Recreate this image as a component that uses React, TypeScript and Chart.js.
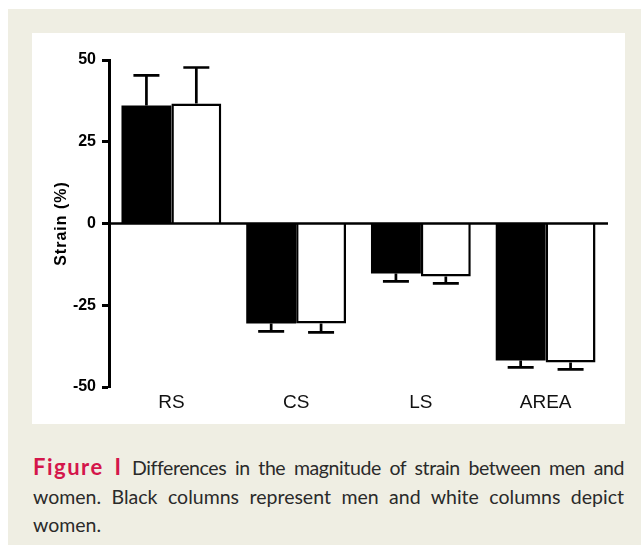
import React, { useEffect, useRef } from "react";
import { Chart, registerables } from "chart.js";

Chart.register(...registerables);

const categories = ["RS", "CS", "LS", "AREA"];
const menValues = [36.1, -30.6, -15.3, -41.9];
const womenValues = [36.7, -30.6, -16.2, -42.5];
const menErrors = [9.2, 2.4, 2.4, 2.1];
const womenErrors = [11.0, 2.7, 2.1, 2.1];
const yTicks = [-50, -25, 0, 25, 50];
const yTitle = "Strain (%)";

const errorBarPlugin = {
  id: "errorBars",
  afterDatasetsDraw(chart: any) {
    const ctx = chart.ctx;
    const yScale = chart.scales.y;
    const area = chart.chartArea;
    const errs = [menErrors, womenErrors];
    chart.data.datasets.forEach((ds: any, di: number) => {
      const meta = chart.getDatasetMeta(di);
      meta.data.forEach((bar: any, i: number) => {
        const v = ds.data[i];
        const e = errs[di][i];
        const end = v >= 0 ? v + e : v - e;
        const y0 = yScale.getPixelForValue(v);
        const y1 = yScale.getPixelForValue(end);
        const x = bar.x;
        ctx.save();
        ctx.strokeStyle = "#000";
        ctx.lineWidth = 2.7;
        ctx.beginPath();
        ctx.moveTo(x, y0);
        ctx.lineTo(x, y1);
        ctx.moveTo(x - 13, y1);
        ctx.lineTo(x + 13, y1);
        ctx.stroke();
        ctx.restore();
      });
    });
    const yz = yScale.getPixelForValue(0);
    ctx.save();
    ctx.strokeStyle = "#000";
    ctx.lineWidth = 2.5;
    ctx.beginPath();
    ctx.moveTo(area.left, yz);
    ctx.lineTo(area.right, yz);
    ctx.stroke();
    ctx.restore();
  },
};

const yTitlePlugin = {
  id: "yTitle",
  afterDraw(chart: any) {
    const ctx = chart.ctx;
    const area = chart.chartArea;
    ctx.save();
    ctx.translate(chart.scales.y.left + 30, (area.top + area.bottom) / 2);
    ctx.rotate(-Math.PI / 2);
    ctx.font = 'bold 16px "Liberation Sans", Arial';
    (ctx as any).letterSpacing = "1px";
    ctx.fillStyle = "#000";
    ctx.textAlign = "center";
    ctx.textBaseline = "middle";
    ctx.fillText(yTitle, 0, 0);
    ctx.restore();
  },
};

function BarChart() {
  const ref = useRef<HTMLCanvasElement | null>(null);
  useEffect(() => {
    if (!ref.current) return;
    const chart = new Chart(ref.current, {
      type: "bar",
      data: {
        labels: categories,
        datasets: [
          {
            label: "Men",
            data: menValues,
            backgroundColor: "#000",
            borderColor: "#000",
            borderWidth: 0,
            categoryPercentage: 0.8,
            barPercentage: 1.0,
          },
          {
            label: "Women",
            data: womenValues,
            backgroundColor: "#fff",
            borderColor: "#000",
            borderWidth: 2.5,
            borderSkipped: "start",
            categoryPercentage: 0.8,
            barPercentage: 1.0,
          },
        ],
      },
      options: {
        animation: false,
        responsive: false,
        maintainAspectRatio: false,
        layout: { padding: { left: 0, right: 17, top: 27, bottom: 7 } },
        plugins: { legend: { display: false }, tooltip: { enabled: false } },
        scales: {
          x: {
            grid: { display: false, drawTicks: false, tickLength: 0 },
            border: { display: false },
            ticks: {
              color: "#111",
              padding: 4,
              font: { family: "Liberation Sans, Arial", size: 19 },
            },
            afterFit: (s: any) => {
              s.height = 30;
            },
          },
          y: {
            min: -50,
            max: 50,
            afterBuildTicks: (s: any) => {
              s.ticks = yTicks.map((v) => ({ value: v }));
            },
            border: { display: true, color: "#000", width: 3 },
            grid: {
              drawOnChartArea: false,
              drawTicks: true,
              tickColor: "#000",
              tickLength: 7,
              tickWidth: 3,
            },
            ticks: {
              color: "#000",
              padding: 6,
              font: { family: "Liberation Sans, Arial", size: 16, weight: "bold" },
            },
            title: { display: false },
            afterFit: (s: any) => {
              s.width = 77;
            },
          },
        },
      },
      plugins: [errorBarPlugin, yTitlePlugin],
    } as any);
    return () => chart.destroy();
  }, []);
  return <canvas ref={ref} width={593} height={391} style={{ display: "block" }} />;
}

export default function App() {
  return (
    <div
      style={{
        position: "absolute",
        left: 0,
        top: 0,
        width: 641,
        height: 545,
        background: "#fff",
        overflow: "hidden",
      }}
    >
      <div
        style={{
          position: "absolute",
          left: 8,
          top: 9,
          width: 633,
          height: 536,
          background: "#EFEEE3",
        }}
      />
      <div
        style={{
          position: "absolute",
          left: 32,
          top: 33,
          width: 593,
          height: 391,
          background: "#fff",
        }}
      >
        <BarChart />
      </div>
      <div
        style={{
          position: "absolute",
          left: 33,
          top: 453,
          width: 591,
          fontFamily: "Lato, 'Open Sans', sans-serif",
          fontSize: 19.5,
          lineHeight: "28.5px",
          color: "#2a2a2a",
        }}
      >
        <div style={{ textAlign: "justify", textAlignLast: "justify", whiteSpace: "nowrap", letterSpacing: "-0.4px" }}>
          <span style={{ color: "#D4164B", fontWeight: "bold", fontSize: 22, letterSpacing: "1.5px" }}>Figure I</span>
          <span>{"\u2002"}Differences in the magnitude of strain between men and</span>
        </div>
        <div style={{ textAlign: "justify", textAlignLast: "justify" }}>
          women. Black columns represent men and white columns depict
        </div>
        <div>women.</div>
      </div>
    </div>
  );
}
